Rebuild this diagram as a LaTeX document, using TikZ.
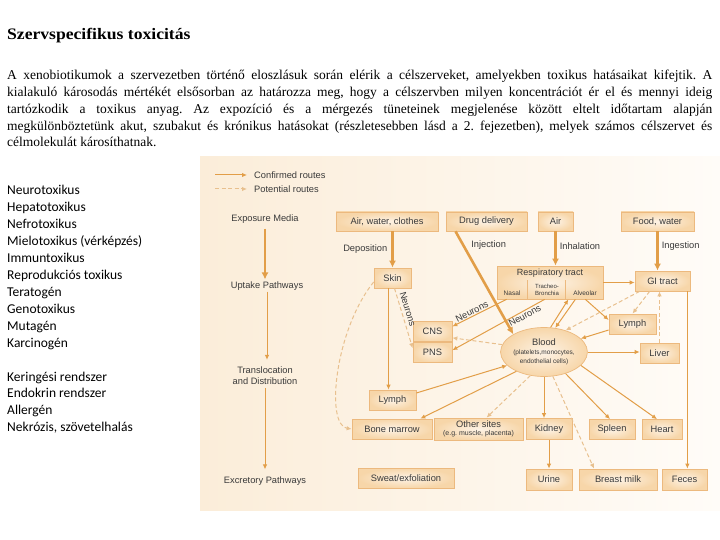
\documentclass[tikz,border=0pt]{standalone}
\usepackage{fontspec}
\setmainfont{Liberation Serif}
\newfontfamily\titlefont{Liberation Serif}[FakeStretch=1.1]
\newfontfamily\diafont{Liberation Sans}
\newfontfamily\listfont{Carlito}
\usepackage{tikz}
\usetikzlibrary{arrows.meta, positioning, calc, shapes.geometric}
\definecolor{boxfill}{HTML}{F7D6A9}
\definecolor{boxin}{HTML}{FDF3E6}
\definecolor{boxline}{HTML}{ECB97E}
\definecolor{routeC}{HTML}{E29E48}
\definecolor{potC}{HTML}{E8C08E}
\definecolor{bgL}{HTML}{FBEDD9}
\definecolor{bgR}{HTML}{FFFCF8}
\definecolor{diatext}{HTML}{3A3A3A}
\frenchspacing

\begin{document}
\begin{tikzpicture}[x=1pt, y=-1pt,
   organ/.style={draw=boxline, line width=0.7pt, inner color=boxin, outer color=boxfill,
                 text=diatext, font=\diafont\fontsize{9.3}{10}\selectfont, inner sep=0pt,
                 minimum height=20pt, align=center},
   stage/.style={text=diatext, font=\diafont\fontsize{9.3}{11}\selectfont, align=center, inner sep=1pt},
   subtext/.style={text=diatext, font=\diafont\fontsize{6.5}{7}\selectfont, align=center, inner sep=0pt},
   route/.style={draw=routeC, line width=1pt, -{Latex[length=5pt, width=4.5pt]}},
   mainroute/.style={route, line width=2.6pt, -{Latex[length=7pt, width=7pt]}},
   potroute/.style={route, draw=potC, dash pattern=on 4pt off 2.5pt},
   divider/.style={draw=boxline, line width=0.6pt},
   para/.style={anchor=base west, inner sep=0pt, font=\fontsize{13.5}{16}\selectfont},
   toxitem/.style={anchor=base west, inner sep=0pt, font=\listfont\fontsize{13.5}{15}\selectfont}]

  \fill[white] (0,0) rectangle (720,540);
  \useasboundingbox (0,0) rectangle (720,540);

  % heading and text
  \node[anchor=base west, inner sep=0pt, font=\titlefont\bfseries\fontsize{16}{18}\selectfont]
       (title) at (7,40) {Szervspecifikus toxicitás};
  \node[para] (p1) at (7,80) {\makebox[705pt][s]{A xenobiotikumok a szervezetben történő eloszlásuk során elérik a célszerveket, amelyekben toxikus hatásaikat kifejtik. A}};
  \node[para] (p2) at (7,96.7) {\makebox[705pt][s]{kialakuló károsodás mértékét elsősorban az határozza meg, hogy a célszervben milyen koncentrációt ér el és mennyi ideig}};
  \node[para] (p3) at (7,113.4) {\makebox[705pt][s]{tartózkodik a toxikus anyag. Az expozíció és a mérgezés tüneteinek megjelenése között eltelt időtartam alapján}};
  \node[para] (p4) at (7,130.1) {\makebox[705pt][s]{megkülönböztetünk akut, szubakut és krónikus hatásokat (részletesebben lásd a 2. fejezetben), melyek számos célszervet és}};
  \node[para] (p5) at (7,146.8) {célmolekulát károsíthatnak.};

  % list of effects
  \foreach \txt [count=\i from 0] in {Neurotoxikus, Hepatotoxikus, Nefrotoxikus,
      Mielotoxikus (vérképzés), Immuntoxikus, Reprodukciós toxikus, Teratogén,
      Genotoxikus, Mutagén, Karcinogén}
    \node[toxitem] (tox\i) at (7,{195+16.9*\i}) {\txt};
  \foreach \txt [count=\i from 0] in {Keringési rendszer, Endokrin rendszer, Allergén,
      {Nekrózis, szövetelhalás}}
    \node[toxitem] (sys\i) at (7,{381+16.7*\i}) {\txt};

  % diagram panel
  \shade[left color=bgL, right color=bgR] (200,157) rectangle (720,510);

  % legend
  \coordinate (lgsolidA) at (215,175);
  \coordinate (lgsolidB) at (247,175);
  \coordinate (lgdashA) at (215,189);
  \coordinate (lgdashB) at (247,189);
  \draw[route] (lgsolidA) -- (lgsolidB);
  \draw[potroute] (lgdashA) -- (lgdashB);
  \node[stage, anchor=west] (lgconf) at (253,175) {Confirmed routes};
  \node[stage, anchor=west] (lgpot) at (253,189) {Potential routes};

  % stages
  \node[stage] (expo) at (265,219) {Exposure Media};
  \node[stage] (uptake) at (267,286) {Uptake Pathways};
  \node[stage] (transl) at (265,376) {Translocation\\and Distribution};
  \node[stage] (excr) at (265,481) {Excretory Pathways};
  \draw[mainroute, shorten <=4pt, shorten >=1pt] (expo.south) -- (expo.south |- uptake.north);
  \draw[route, shorten >=6pt] (uptake.south) -- (uptake.south |- transl.north);
  \draw[route, shorten <=2pt, shorten >=6pt] (transl.south) -- (transl.south |- excr.north);

  % exposure media
  \node[organ, minimum width=102pt, minimum height=19pt] (awc) at (387,221.5) {Air, water, clothes};
  \node[organ, minimum width=81pt, minimum height=19pt] (drug) at (486.5,221.5) {Drug delivery};
  \node[organ, minimum width=35pt, minimum height=19pt] (air) at (555.5,221.5) {Air};
  \node[organ, minimum width=73pt, minimum height=19pt] (food) at (657.5,221.5) {Food, water};

  % uptake organs
  \node[organ, minimum width=37pt] (skin) at (392.5,278) {Skin};
  \node[organ, minimum width=106pt, minimum height=33pt] (resp) at (550,282.5) {};
  \node[stage, font=\diafont\fontsize{9}{10}\selectfont] (resptitle) at (550,273) {Respiratory tract};
  \node[subtext] (nasal) at (512,293) {Nasal};
  \node[subtext, font=\diafont\fontsize{6}{6.5}\selectfont] (trach) at (547,290) {Tracheo-\\Bronchia};
  \node[subtext] (alveolar) at (585,293) {Alveolar};
  \draw[divider] ([xshift=31pt]resp.south west) -- ++(0,-19);
  \draw[divider] ([xshift=69pt]resp.south west) -- ++(0,-19);
  \node[organ, minimum width=55pt] (gi) at (662.5,281) {GI tract};

  % distribution
  \node[organ, minimum width=39pt] (cns) at (432.5,331.5) {CNS};
  \node[organ, minimum width=39pt, below=0pt of cns] (pns) {PNS};
  \node[organ, minimum width=47pt] (lymphL) at (392.5,400) {Lymph};
  \node[organ, minimum width=47pt] (lymphR) at (632.5,324) {Lymph};
  \node[organ, minimum width=39pt] (liver) at (659.5,353) {Liver};
  \node[organ, ellipse, minimum width=86pt, minimum height=49pt] (blood) at (544,352)
       {Blood\\[-1pt]{\fontsize{6.5}{7}\selectfont(platelets,monocytes,}\\[-1.5pt]{\fontsize{6.5}{7}\selectfont endothelial cells)}};

  % target organs
  \node[organ, minimum width=80pt] (bone) at (392,429) {Bone marrow};
  \node[organ, minimum width=89pt, minimum height=22pt] (other) at (478.5,429)
       {Other sites\\[-1.5pt]{\fontsize{7}{7.5}\selectfont(e.g. muscle, placenta)}};
  \node[organ, minimum width=46pt, minimum height=21pt] (kidney) at (549,429) {Kidney};
  \node[organ, minimum width=46pt] (spleen) at (612,429.5) {Spleen};
  \node[organ, minimum width=40pt] (heart) at (662,429.5) {Heart};

  % excretion
  \node[organ, minimum width=96pt] (sweat) at (406,478) {Sweat/exfoliation};
  \node[organ, minimum width=46pt, minimum height=21pt] (urine) at (549,479.5) {Urine};
  \node[organ, minimum width=78pt, minimum height=21pt] (milk) at (618,479.5) {Breast milk};
  \node[organ, minimum width=45pt, minimum height=21pt] (feces) at (684.5,479.5) {Feces};

  % uptake routes
  \draw[mainroute] (skin.north |- awc.south) -- (skin.north)
       node[midway, left=3pt, stage] (deplbl) {Deposition};
  \draw[mainroute] ([xshift=-31pt]drug.south) -- (blood.150)
       node[pos=0.13, right=6pt, stage] (injlbl) {Injection};
  \draw[mainroute] (air.south) -- (air.south |- resp.north)
       node[pos=0.42, right=2pt, stage] (inhlbl) {Inhalation};
  \draw[mainroute] (food.south) -- (food.south |- gi.north)
       node[pos=0.38, right=2pt, stage] (inglbl) {Ingestion};
  \draw[route] (resp.east) -- (resp.east -| gi.west);

  % skin and neurons
  \draw[route] ([xshift=-4pt]skin.south) -- ([xshift=-4pt]lymphL.north);
  \draw[potroute] ([xshift=2pt]skin.south) -- ([yshift=4pt]pns.west)
       node[pos=0.38, sloped, above=2pt, stage] (neuskin) {Neurons};
  \draw[potroute] ([yshift=-4pt]skin.west) .. controls (335,330) and (325,425) .. (bone.west);
  \draw[route] ([xshift=10pt]resp.south west) -- ([yshift=5pt]cns.east)
       node[pos=0.6, sloped, above=0pt, stage] (neunasal) {Neurons};
  \draw[route] ([xshift=48pt]resp.south west) -- ([yshift=2pt]pns.east)
       node[pos=0.24, sloped, below=0pt, stage] (neutrach) {Neurons};

  % blood exchange
  \draw[potroute] (blood.170) -- ([yshift=4pt]cns.south east);
  \draw[route] ([yshift=7pt]lymphL.east) -- (blood.200);
  \draw[route] (blood.215) -- ([xshift=-12pt]bone.north east);
  \draw[potroute] (blood.240) -- ([xshift=8pt]other.north);
  \draw[route] (blood.south) -- (blood.south |- kidney.north);
  \draw[potroute] (blood.290) -- ([xshift=-24pt]milk.north);
  \draw[route] (blood.315) -- ([xshift=-2pt]spleen.north);
  \draw[route] (blood.340) -- ([xshift=-5pt]heart.north);
  \draw[route] (blood.east) -- (blood.east -| liver.west);
  \draw[route] (blood.75) -- ([xshift=-35pt]resp.south east);
  \draw[route] ([xshift=-28pt]resp.south east) -- (blood.65);
  \draw[route] ([xshift=-18pt]resp.south east) -- ([yshift=4pt]lymphR.west);
  \draw[potroute] ([xshift=5pt]gi.south west) -- (blood.45);
  \draw[potroute] ([xshift=15pt]gi.south west) -- (lymphR.north);
  \draw[route] ([yshift=-6pt]lymphR.west) -- (blood.20);
  \draw[potroute] (liver.north) -- (liver.north |- gi.south);

  % excretion routes
  \draw[route] (kidney.south) -- (urine.north);
  \draw[route] ($(gi.south east)+(-3,0)$) -- ($(gi.south east |- feces.north)+(-3,0)$);
\end{tikzpicture}
\end{document}
